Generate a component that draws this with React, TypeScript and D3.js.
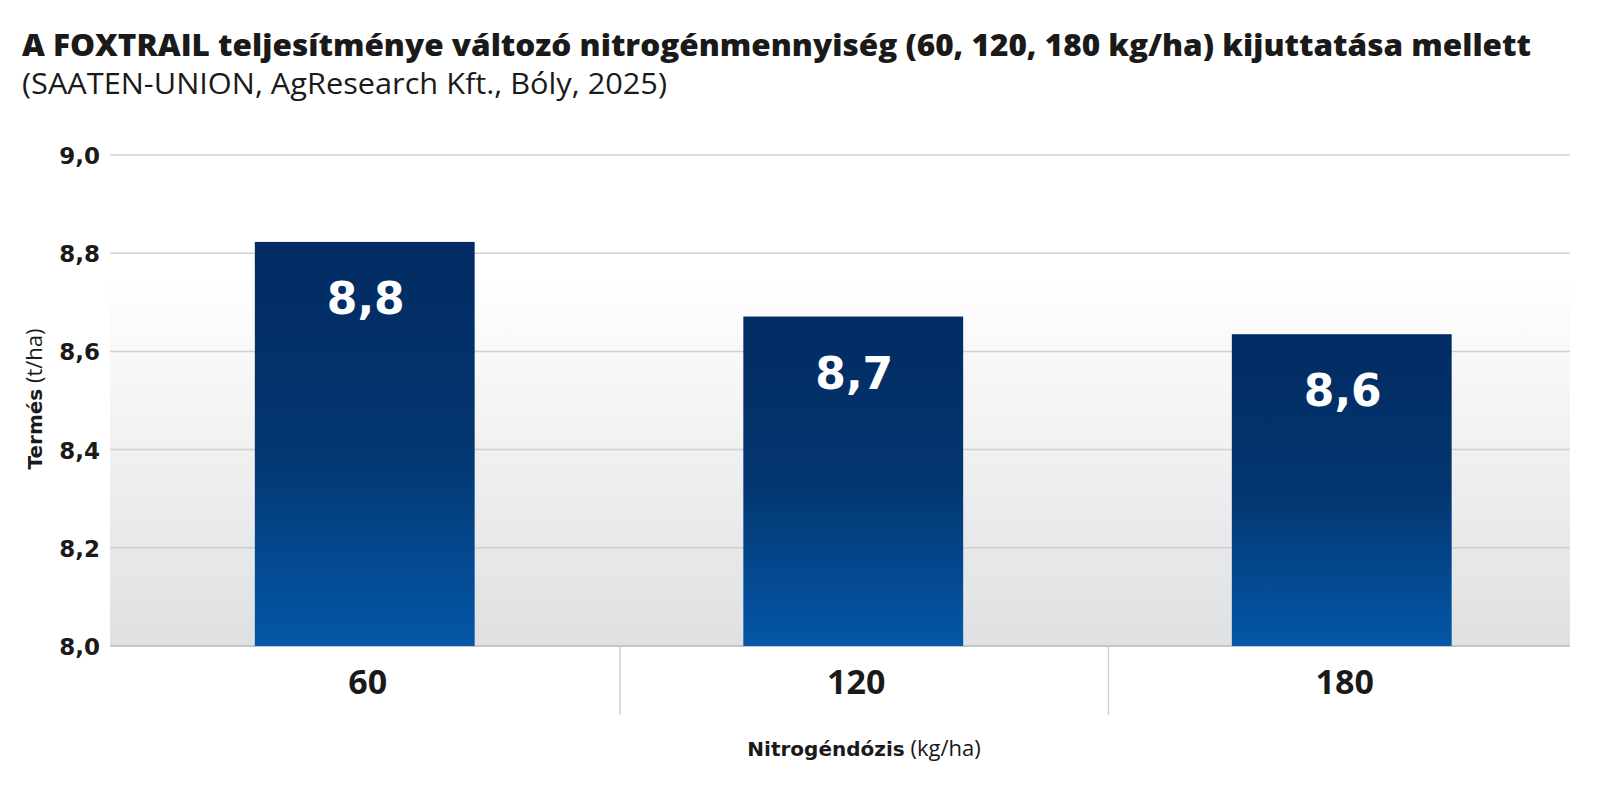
import React from "react";
import * as d3 from "d3";

const categories = ["60", "120", "180"];
const values = [8.823, 8.671, 8.635];
const valueLabels = ["8,8", "8,7", "8,6"];
const yTicks = [8.0, 8.2, 8.4, 8.6, 8.8, 9.0];

const W = 1600;
const H = 802;
const plotLeft = 110;
const plotRight = 1570;

export default function App() {
  const y = d3.scaleLinear().domain([8.0, 9.0]).range([646, 155]);
  const x = d3.scaleBand<string>().domain(categories).range([120.5, 1586]).padding(0);
  const bw = x.bandwidth() * 0.45;
  const fmt = (v: number) => d3.format(".1f")(v).replace(".", ",");

  return (
    <svg
      width={W}
      height={H}
      viewBox={`0 0 ${W} ${H}`}
      style={{ position: "absolute", left: 0, top: 0, background: "#fff" }}
    >
      <defs>
        <linearGradient id="bg" x1="0" y1="0" x2="0" y2="1">
          <stop offset="0%" stopColor="#ffffff" />
          <stop offset="25%" stopColor="#ffffff" />
          <stop offset="100%" stopColor="#dfe0e2" />
        </linearGradient>
        <linearGradient id="bar" x1="0" y1="0" x2="0" y2="1">
          <stop offset="0%" stopColor="#022b63" />
          <stop offset="50%" stopColor="#03366f" />
          <stop offset="100%" stopColor="#0457a8" />
        </linearGradient>
      </defs>

      <text x={22} y={56} fontFamily="'Open Sans', sans-serif" fontWeight={800} fontSize={30} fill="#1a1a1a" textLength={1509} lengthAdjust="spacingAndGlyphs">
        A FOXTRAIL teljesítménye változó nitrogénmennyiség (60, 120, 180 kg/ha) kijuttatása mellett
      </text>
      <text x={22} y={94} fontFamily="'Open Sans', sans-serif" fontWeight={400} fontSize={29} fill="#1a1a1a" textLength={645} lengthAdjust="spacingAndGlyphs">
        (SAATEN-UNION, AgResearch Kft., Bóly, 2025)
      </text>

      <rect x={plotLeft} y={y(9.0)} width={plotRight - plotLeft} height={y(8.0) - y(9.0)} fill="url(#bg)" />

      {yTicks.map((t) => (
        <g key={t}>
          <line x1={plotLeft} x2={plotRight} y1={y(t)} y2={y(t)} stroke={t === 8.0 ? "#c4c5c7" : "#cfd0d2"} strokeWidth={t === 8.0 ? 2 : 1.5} />
          <text x={100} y={y(t) + 9} textAnchor="end" fontFamily="'DejaVu Sans', sans-serif" fontWeight={700} fontSize={23} fill="#1a1a1a">
            {fmt(t)}
          </text>
        </g>
      ))}

      {categories.slice(1).map((c) => (
        <line key={c} x1={(x(c) as number) + 11} x2={(x(c) as number) + 11} y1={y(8.0)} y2={715} stroke="#d0d1d3" strokeWidth={1.5} />
      ))}

      {categories.map((c, i) => {
        const cx = (x(c) as number) + x.bandwidth() / 2;
        const top = y(values[i]);
        return (
          <g key={c}>
            <rect x={cx - bw / 2} y={top} width={bw} height={y(8.0) - top} fill="url(#bar)" />
            <text x={cx + 1} y={top + 72} textAnchor="middle" fontFamily="'DejaVu Sans', sans-serif" fontWeight={700} fontSize={44} fill="#ffffff">
              {valueLabels[i]}
            </text>
            <text x={cx + 3} y={694} textAnchor="middle" fontFamily="'Open Sans', sans-serif" fontWeight={700} fontSize={34} fill="#1a1a1a">
              {c}
            </text>
          </g>
        );
      })}

      <text x={864} y={756} textAnchor="middle" fill="#1a1a1a">
        <tspan fontFamily="'DejaVu Sans', sans-serif" fontWeight={700} fontSize={20}>Nitrogéndózis</tspan>
        <tspan fontFamily="'Open Sans', sans-serif" fontWeight={400} fontSize={22}> (kg/ha)</tspan>
      </text>

      <text transform="translate(42,399) rotate(-90)" textAnchor="middle" fill="#1a1a1a">
        <tspan fontFamily="'DejaVu Sans', sans-serif" fontWeight={700} fontSize={20}>Termés</tspan>
        <tspan fontFamily="'Open Sans', sans-serif" fontWeight={400} fontSize={22}> (t/ha)</tspan>
      </text>
    </svg>
  );
}
